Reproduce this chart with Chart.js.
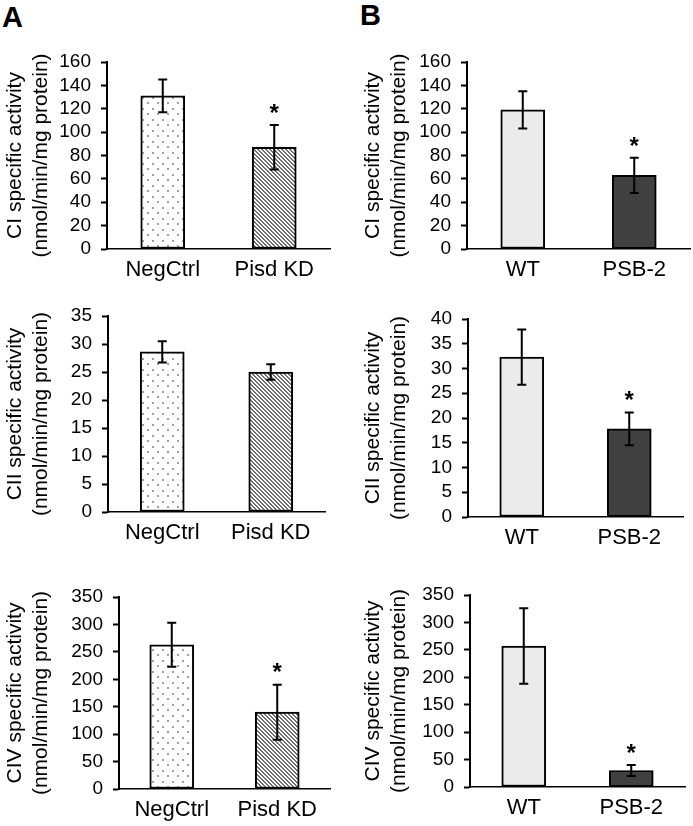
<!DOCTYPE html>
<html><head><meta charset="utf-8">
<script src="https://cdn.jsdelivr.net/npm/chart.js@4.4.1/dist/chart.umd.min.js"></script>
<style>
html,body{margin:0;padding:0;background:#fff}
body{position:relative;width:693px;height:826px;overflow:hidden;font-family:"Liberation Sans",Arial,sans-serif}
canvas{position:absolute}
.plab{position:absolute;font-weight:bold;font-size:29px;line-height:29px;color:#000}
</style></head><body>
<div class="plab" style="left:2px;top:3px">A</div>
<div class="plab" style="left:360px;top:1px">B</div>
<canvas id="a1"></canvas><canvas id="a2"></canvas><canvas id="a3"></canvas>
<canvas id="b1"></canvas><canvas id="b2"></canvas><canvas id="b3"></canvas>
<script>
// ---- data ----
const groupsA = ['NegCtrl', 'Pisd KD'];
const groupsB = ['WT', 'PSB-2'];

const ciA = [131, 87];
const ciAErr = [14, 19];
const ciASig = [false, true];

const ciiA = [28.6, 25.0];
const ciiAErr = [1.9, 1.4];
const ciiASig = [false, false];

const civA = [263, 140];
const civAErr = [40, 50];
const civASig = [false, true];

const ciB = [119, 63];
const ciBErr = [16, 15];
const ciBSig = [false, true];

const ciiB = [32.3, 17.8];
const ciiBErr = [5.6, 3.3];
const ciiBSig = [false, true];

const civB = [257, 30];
const civBErr = [69, 10];
const civBSig = [false, true];

const yMaxCI = 160, yStepCI = 20;
const yMaxCIIA = 35, yStepCIIA = 5;
const yMaxCIIB = 40, yStepCIIB = 5;
const yMaxCIV = 350, yStepCIV = 50;

const titleCI = ['CI specific activity', '(nmol/min/mg protein)'];
const titleCII = ['CII specific activity', '(nmol/min/mg protein)'];
const titleCIV = ['CIV specific activity', '(nmol/min/mg protein)'];

// ---- styling ----
const FONT = '"Liberation Sans", Arial, sans-serif';

function dotPattern() {
  const c = document.createElement('canvas'); c.width = 10; c.height = 11;
  const g = c.getContext('2d');
  g.fillStyle = '#fff'; g.fillRect(0, 0, 10, 11);
  g.fillStyle = '#a0a0a0';
  g.fillRect(2, 2, 2, 2); g.fillRect(7, 7, 2, 2);
  return g.createPattern(c, 'repeat');
}
function hatchPattern() {
  const c = document.createElement('canvas'); c.width = 4; c.height = 4;
  const g = c.getContext('2d');
  g.fillStyle = '#fff'; g.fillRect(0, 0, 4, 4);
  g.fillStyle = '#707070';
  for (let y = 0; y < 4; y++) for (let x = 0; x < 4; x++)
    if ((((x - y) % 4) + 4) % 4 < 2) g.fillRect(x, y, 1, 1);
  return g.createPattern(c, 'repeat');
}
const fillsA = [dotPattern(), hatchPattern()];
const fillsB = ['#ebebeb', '#404040'];

const errorBarPlugin = {
  id: 'errorBars',
  afterDatasetsDraw(chart) {
    const ctx = chart.ctx, y = chart.scales.y;
    const ds = chart.data.datasets[0];
    const meta = chart.getDatasetMeta(0);
    ctx.save();
    ctx.strokeStyle = '#000'; ctx.lineWidth = 2; ctx.fillStyle = '#000';
    meta.data.forEach((bar, i) => {
      const v = ds.data[i], e = ds.errors[i];
      const yt = y.getPixelForValue(v + e), yb = y.getPixelForValue(v - e);
      const x = bar.x;
      ctx.beginPath();
      ctx.moveTo(x, yt); ctx.lineTo(x, yb);
      ctx.moveTo(x - 4.5, yt); ctx.lineTo(x + 4.5, yt);
      ctx.moveTo(x - 4.5, yb); ctx.lineTo(x + 4.5, yb);
      ctx.stroke();
      if (ds.sig[i]) {
        const fs = 24;
        ctx.font = 'bold ' + fs + 'px ' + FONT;
        ctx.textAlign = 'center'; ctx.textBaseline = 'alphabetic';
        ctx.fillText('*', x, yt - 18 + 0.57 * fs);
      }
    });
    ctx.restore();
  }
};

function makeChart(id, g, labels, values, errors, sig, fills, yMax, yStep, title) {
  const cv = document.getElementById(id);
  cv.width = g.w; cv.height = g.h;
  cv.style.left = g.left + 'px'; cv.style.top = g.top + 'px';
  cv.style.width = g.w + 'px'; cv.style.height = g.h + 'px';
  return new Chart(cv, {
    type: 'bar',
    data: { labels: labels, datasets: [{ data: values, errors: errors, sig: sig,
      backgroundColor: fills, borderColor: '#000', borderWidth: 2, borderSkipped: false, barThickness: 44 }] },
    options: {
      responsive: false, animation: false, devicePixelRatio: 1,
      layout: { padding: { top: g.axisTop - g.top, right: g.left + g.w - g.axisRight, left: 0, bottom: 0 } },
      plugins: { legend: { display: false }, tooltip: { enabled: false } },
      scales: {
        x: {
          grid: { display: false, drawTicks: false },
          border: { display: true, color: '#000', width: 1.5 },
          ticks: { color: '#000', font: { family: FONT, size: 22 }, padding: 8 },
          afterFit: s => { s.height = g.top + g.h - g.zeroY; }
        },
        y: {
          min: 0, max: yMax,
          ticks: { stepSize: yStep, autoSkip: false, maxTicksLimit: 20, color: '#000', font: { family: FONT, size: 19, lineHeight: 1 }, padding: 10 },
          grid: { display: true, drawOnChartArea: false, drawTicks: true, tickLength: 6, tickWidth: 2, tickColor: '#000', color: '#000' },
          border: { display: true, color: '#000', width: 2 },
          title: { display: true, text: title, color: '#000', font: { family: FONT, size: 21, lineHeight: 1.2 }, padding: { top: 3, bottom: 0 } },
          afterFit: s => { s.width = g.axisX - g.left; }
        }
      }
    },
    plugins: [errorBarPlugin]
  });
}

// ---- panel geometry ----
const geoA1 = { left: 0, top: 40, w: 345, h: 250, axisX: 107, axisTop: 62, zeroY: 249, axisRight: 330 };
const geoA2 = { left: 0, top: 290, w: 345, h: 260, axisX: 108, axisTop: 316, zeroY: 512, axisRight: 325 };
const geoA3 = { left: 0, top: 570, w: 345, h: 256, axisX: 119, axisTop: 597, zeroY: 789, axisRight: 330 };
const geoB1 = { left: 358, top: 40, w: 335, h: 250, axisX: 467, axisTop: 62, zeroY: 249, axisRight: 690 };
const geoB2 = { left: 358, top: 290, w: 335, h: 260, axisX: 468, axisTop: 319, zeroY: 517, axisRight: 683 };
const geoB3 = { left: 358, top: 570, w: 335, h: 256, axisX: 470, axisTop: 595, zeroY: 787, axisRight: 685 };

makeChart('a1', geoA1, groupsA, ciA, ciAErr, ciASig, fillsA, yMaxCI, yStepCI, titleCI);
makeChart('a2', geoA2, groupsA, ciiA, ciiAErr, ciiASig, fillsA, yMaxCIIA, yStepCIIA, titleCII);
makeChart('a3', geoA3, groupsA, civA, civAErr, civASig, fillsA, yMaxCIV, yStepCIV, titleCIV);
makeChart('b1', geoB1, groupsB, ciB, ciBErr, ciBSig, fillsB, yMaxCI, yStepCI, titleCI);
makeChart('b2', geoB2, groupsB, ciiB, ciiBErr, ciiBSig, fillsB, yMaxCIIB, yStepCIIB, titleCII);
makeChart('b3', geoB3, groupsB, civB, civBErr, civBSig, fillsB, yMaxCIV, yStepCIV, titleCIV);
</script>
</body></html>
